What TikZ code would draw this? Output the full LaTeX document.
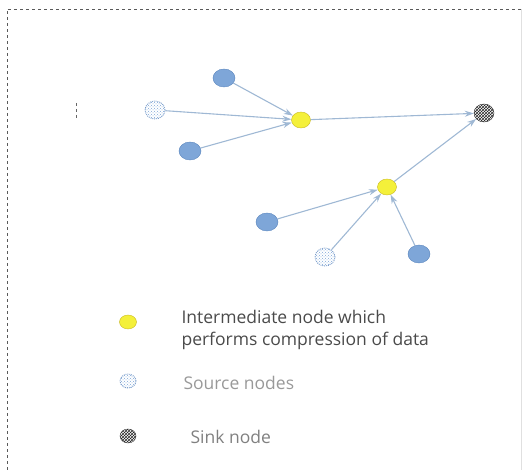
\documentclass[tikz,border=0pt]{standalone}
\usepackage{fontspec}
\setmainfont{Open Sans}
\usetikzlibrary{arrows.meta,patterns,shapes.geometric}
\definecolor{srcblue}{HTML}{7EA6D8}
\definecolor{srcedge}{HTML}{5B86BE}
\definecolor{linkcol}{HTML}{9FB8D4}
\definecolor{interfill}{HTML}{F4F03A}
\definecolor{interedge}{HTML}{C8B820}
\definecolor{txtgray}{HTML}{4A4A4A}
\tikzset{
  srcsolid/.style={ellipse, minimum width=22pt, minimum height=18pt, inner sep=0pt,
    draw=srcedge, line width=0.4pt, fill=srcblue},
  srcdot/.style={ellipse, minimum width=20pt, minimum height=18pt, inner sep=0pt,
    draw=srcedge!80, densely dotted, line width=0.9pt,
    pattern=crosshatch dots, pattern color=srcblue},
  inter/.style={ellipse, minimum width=19pt, minimum height=16pt, inner sep=0pt,
    draw=interedge, fill=interfill},
  sinknode/.style={ellipse, minimum width=20pt, minimum height=18pt, inner sep=0pt,
    draw=black!80, pattern=crosshatch, pattern color=black!85},
  link/.style={draw=linkcol, line width=1.1pt, -{Stealth[length=9pt,width=6pt]}},
  legtext/.style={anchor=west, text=txtgray, font=\fontsize{17.5}{22}\selectfont, align=left}
}
\begin{document}
\begin{tikzpicture}[x=1pt,y=-1pt]
\useasboundingbox (0,0) rectangle (523,473);
% frame
\draw[black!65, dashed, line width=0.8pt] (7,470) -- (7,9) -- (521,9);
\draw[black!12, line width=0.5pt] (521,9) -- (521,470);
% small mark at left
\draw[black!60, dashed, line width=0.8pt] (76,103) -- (76,118);

% network nodes
\node[srcsolid] (a) at (224,78) {};
\node[srcdot] (b) at (155,110) {};
\node[srcsolid] (c) at (190,151) {};
\node[inter] (i1) at (301,120) {};
\node[sinknode] (s) at (484,113) {};
\node[inter] (i2) at (387,187) {};
\node[srcsolid] (d) at (267,222) {};
\node[srcdot] (e) at (325,257) {};
\node[srcsolid] (f) at (419,254) {};

% links towards the intermediate nodes and the sink
\draw[link] (a) -- (i1);
\draw[link] (b) -- (i1);
\draw[link] (c) -- (i1);
\draw[link] (i1) -- (s);
\draw[link] (d) -- (i2);
\draw[link] (e) -- (i2);
\draw[link] (f) -- (i2);
\draw[link] (i2) -- (s);

% legend
\node[inter, minimum width=17pt, minimum height=14pt] (li) at (128,322) {};
\node[legtext] (lt1) at (178,330) {Intermediate node which\\performs compression of data};
\node[srcdot, minimum width=16pt, minimum height=14pt] (ls) at (128,381) {};
\node[legtext, text=black!40] (lt2) at (180,383) {Source nodes};
\node[sinknode, minimum width=16pt, minimum height=14pt] (lk) at (128,436) {};
\node[legtext, text=black!50] (lt3) at (187,437) {Sink node};
\end{tikzpicture}
\end{document}
